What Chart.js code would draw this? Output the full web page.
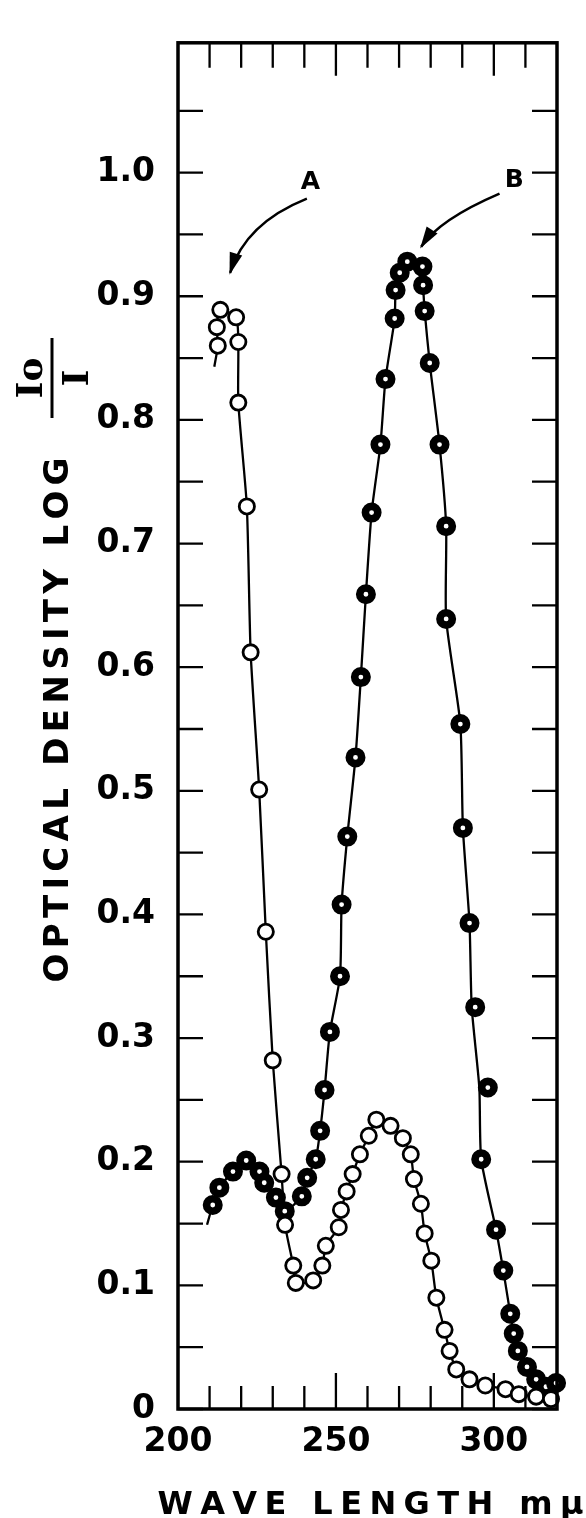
<!DOCTYPE html>
<html><head><meta charset="utf-8">
<script src="https://cdn.jsdelivr.net/npm/chart.js@4.4.1/dist/chart.umd.min.js"></script>
<style>html,body{margin:0;padding:0;background:#fff;}#wrap{width:586px;height:1518px;position:relative;}</style>
</head><body><div id="wrap"><canvas id="c" width="586" height="1518"></canvas></div>
<script>
// ---- data ----
// Curve A (open circles)
const waveA = [212.6, 212.3, 213.4, 218.4, 219.1, 219.1, 221.8, 223.0, 225.7, 227.8, 230.0, 232.8, 233.9, 236.5, 237.3, 242.8, 245.7, 246.8, 250.9, 251.6, 253.4, 255.3, 257.6, 260.4, 262.8, 267.3, 271.2, 273.7, 274.7, 276.9, 278.1, 280.2, 281.8, 284.4, 286.0, 288.1, 292.3, 297.3, 303.7, 307.9, 313.4, 318.1];
const odA   = [0.860, 0.875, 0.889, 0.883, 0.863, 0.814, 0.730, 0.612, 0.501, 0.386, 0.282, 0.190, 0.149, 0.116, 0.102, 0.104, 0.116, 0.132, 0.147, 0.161, 0.176, 0.190, 0.206, 0.221, 0.234, 0.229, 0.219, 0.206, 0.186, 0.166, 0.142, 0.120, 0.090, 0.064, 0.047, 0.032, 0.024, 0.019, 0.016, 0.012, 0.010, 0.008];
// Curve B (heavy circles)
const waveB = [211.0, 213.1, 217.4, 221.6, 225.8, 227.3, 231.0, 233.8, 239.2, 240.9, 243.6, 245.0, 246.4, 248.1, 251.3, 251.8, 253.6, 256.2, 257.9, 259.5, 261.3, 264.1, 265.7, 268.6, 268.9, 270.2, 272.6, 277.4, 277.6, 278.1, 279.7, 282.8, 284.9, 284.9, 289.4, 290.2, 292.3, 294.1, 298.1, 296.0, 300.7, 303.0, 305.2, 306.3, 307.6, 310.5, 313.4, 316.5, 319.7];
const odB   = [0.165, 0.179, 0.192, 0.201, 0.192, 0.183, 0.171, 0.160, 0.172, 0.187, 0.202, 0.225, 0.258, 0.305, 0.350, 0.408, 0.463, 0.527, 0.592, 0.659, 0.725, 0.780, 0.833, 0.882, 0.905, 0.919, 0.928, 0.924, 0.909, 0.888, 0.846, 0.780, 0.714, 0.639, 0.554, 0.470, 0.393, 0.325, 0.260, 0.202, 0.145, 0.112, 0.077, 0.061, 0.047, 0.034, 0.024, 0.018, 0.021];
// Drawn smooth curves (traced line, incl. short tails beyond first points)
const lineAWave = [211.5, 212.6, 212.3, 213.4, 218.4, 219.1, 219.1, 221.8, 223.0, 225.7, 227.8, 230.0, 232.8, 233.9, 236.5, 237.3, 242.8, 245.7, 246.8, 250.9, 251.6, 253.4, 255.3, 257.6, 260.4, 262.8, 267.3, 271.2, 273.7, 274.7, 276.9, 278.1, 280.2, 281.8, 284.4, 286.0, 288.1, 292.3, 297.3, 303.7, 307.9, 313.4, 318.1];
const lineAOd   = [0.843, 0.860, 0.875, 0.889, 0.883, 0.863, 0.814, 0.730, 0.612, 0.501, 0.386, 0.282, 0.190, 0.149, 0.116, 0.102, 0.104, 0.116, 0.132, 0.147, 0.161, 0.176, 0.190, 0.206, 0.221, 0.234, 0.229, 0.219, 0.206, 0.186, 0.166, 0.142, 0.120, 0.090, 0.064, 0.047, 0.032, 0.024, 0.019, 0.016, 0.012, 0.010, 0.008];
const lineBWave = [209.2, 211.0, 213.1, 217.4, 221.6, 225.8, 227.3, 231.0, 233.8, 239.2, 240.9, 243.6, 245.0, 246.4, 248.1, 251.3, 251.8, 253.6, 256.2, 257.9, 259.5, 261.3, 264.1, 265.7, 268.6, 268.9, 270.2, 272.6, 277.4, 277.6, 278.1, 279.7, 282.8, 284.9, 284.9, 289.4, 290.2, 292.3, 293.0, 295.4, 296.0, 300.7, 303.0, 305.2, 306.3, 307.6, 310.5, 313.4, 316.5, 319.7];
const lineBOd   = [0.149, 0.165, 0.179, 0.192, 0.201, 0.192, 0.183, 0.171, 0.160, 0.172, 0.187, 0.202, 0.225, 0.258, 0.305, 0.350, 0.408, 0.463, 0.527, 0.592, 0.659, 0.725, 0.780, 0.833, 0.882, 0.905, 0.919, 0.928, 0.924, 0.909, 0.888, 0.846, 0.780, 0.714, 0.639, 0.554, 0.470, 0.393, 0.325, 0.260, 0.202, 0.145, 0.112, 0.077, 0.061, 0.047, 0.034, 0.024, 0.018, 0.021];

// ---- axes ----
const xTickValues = [200, 210, 220, 230, 240, 250, 260, 270, 280, 290, 300, 310, 320];
const xLabelValues = [200, 250, 300];
const xLabelText = ['200', '250', '300'];
const yTickValues = [0, 0.05, 0.1, 0.15, 0.2, 0.25, 0.3, 0.35, 0.4, 0.45, 0.5, 0.55, 0.6, 0.65, 0.7, 0.75, 0.8, 0.85, 0.9, 0.95, 1.0, 1.05];
const yLabelValues = [0, 0.1, 0.2, 0.3, 0.4, 0.5, 0.6, 0.7, 0.8, 0.9, 1.0];
const yLabelText = ['0', '0.1', '0.2', '0.3', '0.4', '0.5', '0.6', '0.7', '0.8', '0.9', '1.0'];
const xTitle = 'WAVE LENGTH mμ';
const yTitle = 'OPTICAL DENSITY LOG';
const yTitleFracNum = 'Io';
const yTitleFracDen = 'I';

// annotation labels with curved arrows (data coordinates)
const notes = [
  { text: 'A', at: [241.9, 0.992], from: [240.8, 0.979], ctrl: [221.3, 0.959], to: [216.5, 0.919] },
  { text: 'B', at: [306.5, 0.994], from: [301.8, 0.983], ctrl: [282.6, 0.962], to: [277.0, 0.940] }
];

const toPts = (xs, ys) => xs.map((v, i) => ({ x: v, y: ys[i] }));
const FONT = 'DejaVu Sans';

function spaced(ctx, text, cx, base, width) {
  const chars = [...text];
  const ws = chars.map(c => ctx.measureText(c).width);
  const nat = ws.reduce((a, b) => a + b, 0);
  const gap = chars.length > 1 ? (width - nat) / (chars.length - 1) : 0;
  let x = cx - width / 2;
  ctx.textAlign = 'left';
  chars.forEach((c, i) => { ctx.fillText(c, x, base); x += ws[i] + gap; });
}

const decor = {
  id: 'decor',
  afterDraw(chart) {
    const { ctx, chartArea: a, scales: { x, y } } = chart;
    ctx.save();
    ctx.strokeStyle = '#000'; ctx.fillStyle = '#000';
    // frame
    ctx.lineWidth = 3.5;
    ctx.strokeRect(a.left, a.top, a.right - a.left, a.bottom - a.top);
    // inward ticks
    ctx.lineWidth = 2.3;
    ctx.beginPath();
    yTickValues.forEach(v => {
      const p = y.getPixelForValue(v);
      ctx.moveTo(a.left, p); ctx.lineTo(a.left + 25, p);
      ctx.moveTo(a.right, p); ctx.lineTo(a.right - 25, p);
    });
    xTickValues.forEach(v => {
      if (v === 200 || v === 320) return;
      const p = x.getPixelForValue(v);
      const major = xLabelValues.includes(v);
      ctx.moveTo(p, a.bottom); ctx.lineTo(p, a.bottom - (major ? 36 : 23));
      ctx.moveTo(p, a.top); ctx.lineTo(p, a.top + (major ? 33 : 25));
    });
    ctx.stroke();

    // x title
    ctx.font = 'bold 32px "' + FONT + '"';
    ctx.textBaseline = 'alphabetic';
    spaced(ctx, xTitle, (a.left + a.right) / 2 + 3, 1514, 426);

    // y title rotated
    ctx.save();
    ctx.translate(55.5, 720);
    ctx.rotate(-Math.PI / 2);
    ctx.font = 'bold 34px "' + FONT + '"';
    spaced(ctx, yTitle, 0, 12.4, 525);
    ctx.restore();
    // fraction Io / I
    ctx.save();
    ctx.translate(52, 378);
    ctx.rotate(-Math.PI / 2);
    ctx.lineWidth = 3;
    ctx.beginPath(); ctx.moveTo(-40, 0); ctx.lineTo(40, 0); ctx.stroke();
    ctx.font = 'bold 36px "DejaVu Serif"';
    ctx.textAlign = 'center';
    ctx.textBaseline = 'alphabetic';
    ctx.fillText(yTitleFracNum, 0, -10);
    ctx.fillText(yTitleFracDen, 0, 36);
    ctx.restore();

    // notes with curved arrows
    notes.forEach(n => {
      const P = q => [x.getPixelForValue(q[0]), y.getPixelForValue(q[1])];
      const [lx, ly] = P(n.at), [x0, y0] = P(n.from), [cx, cy] = P(n.ctrl), [x1, y1] = P(n.to);
      ctx.font = 'bold 25px "' + FONT + '"';
      ctx.textAlign = 'center'; ctx.textBaseline = 'middle';
      ctx.fillText(n.text, lx, ly);
      ctx.lineWidth = 2.5;
      ctx.beginPath(); ctx.moveTo(x0, y0); ctx.quadraticCurveTo(cx, cy, x1, y1); ctx.stroke();
      const ang = Math.atan2(y1 - cy, x1 - cx);
      const L = 20, W = 6.5;
      const bx = x1 - L * Math.cos(ang), by = y1 - L * Math.sin(ang);
      ctx.beginPath();
      ctx.moveTo(x1 + 2 * Math.cos(ang), y1 + 2 * Math.sin(ang));
      ctx.lineTo(bx + W * Math.sin(ang), by - W * Math.cos(ang));
      ctx.lineTo(bx - W * Math.sin(ang), by + W * Math.cos(ang));
      ctx.closePath(); ctx.fill();
    });
    ctx.restore();
  }
};

new Chart(document.getElementById('c'), {
  type: 'scatter',
  data: {
    datasets: [
      { label: 'A', data: toPts(waveA, odA), showLine: false, order: 0, clip: false,
        pointStyle: 'circle', pointRadius: 7.6, pointBorderWidth: 2.8, pointBackgroundColor: '#fff', pointBorderColor: '#000' },
      { label: 'B', data: toPts(waveB, odB), showLine: false, order: 0, clip: false,
        pointStyle: 'circle', pointRadius: 6.2, pointBorderWidth: 7.6, pointBackgroundColor: '#fff', pointBorderColor: '#000' },
      { label: 'A curve', data: toPts(lineAWave, lineAOd), showLine: true, order: 1, pointRadius: 0,
        borderColor: '#000', borderWidth: 2.3, tension: 0.2, fill: false },
      { label: 'B curve', data: toPts(lineBWave, lineBOd), showLine: true, order: 1, pointRadius: 0,
        borderColor: '#000', borderWidth: 2.3, tension: 0.2, fill: false }
    ]
  },
  options: {
    responsive: false, animation: false, devicePixelRatio: 1,
    layout: { padding: { top: 17, right: 29, left: 0, bottom: 0 } },
    plugins: { legend: { display: false }, tooltip: { enabled: false } },
    scales: {
      x: {
        type: 'linear', min: 200, max: 320,
        afterBuildTicks: s => { s.ticks = xTickValues.map(v => ({ value: v })); },
        afterFit: s => { s.height = 109; },
        grid: { display: false, drawTicks: false }, border: { display: false },
        ticks: { autoSkip: false, maxRotation: 0, minRotation: 0, padding: 14, color: '#000',
          font: { family: FONT, weight: 'bold', size: 33 },
          callback: v => { const i = xLabelValues.indexOf(v); return i < 0 ? '' : xLabelText[i]; } }
      },
      y: {
        type: 'linear', min: 0, max: 1.105,
        afterBuildTicks: s => { s.ticks = yTickValues.map(v => ({ value: v })); },
        afterFit: s => { s.width = 178; },
        grid: { display: false, drawTicks: false }, border: { display: false },
        ticks: { autoSkip: false, padding: 23, color: '#000',
          font: { family: FONT, weight: 'bold', size: 33 },
          callback: v => { const i = yLabelValues.findIndex(u => Math.abs(u - v) < 1e-6); return i < 0 ? '' : yLabelText[i]; } }
      }
    }
  },
  plugins: [decor]
});
</script></body></html>
